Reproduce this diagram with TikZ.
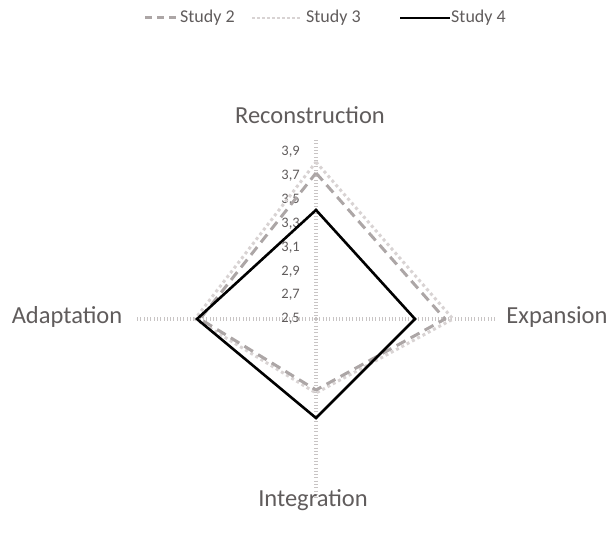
\documentclass[tikz,border=0pt]{standalone}
\usepackage{fontspec}
\setmainfont{Carlito}
\usepackage{xcolor}
\definecolor{txtgray}{RGB}{96,92,92}
\definecolor{axgray}{RGB}{200,196,196}
\definecolor{stwo}{RGB}{172,166,166}
\definecolor{sthree}{RGB}{216,211,211}
\tikzset{
  axisline/.style={axgray, line width=4pt, dash pattern=on 0.7pt off 2.6pt},
  studytwo/.style={stwo, line width=3pt, dash pattern=on 10pt off 6pt, line join=round},
  studythree/.style={sthree, line width=3pt, dash pattern=on 3pt off 3pt, line join=round},
  studyfour/.style={black, line width=2.6pt, line join=miter},
  axlabel/.style={txtgray, font=\fontsize{24.5}{28}\selectfont},
  ticklabel/.style={txtgray, font=\fontsize{14.5}{16}\selectfont, anchor=east, inner sep=1pt},
  legtext/.style={txtgray, font=\fontsize{18}{20}\selectfont, anchor=west, inner sep=2pt}
}
\begin{document}
\begin{tikzpicture}[x=1pt,y=1pt]
\useasboundingbox (0,0) rectangle (612,536);

% axes
\coordinate (c) at (316,217);
\coordinate (atop) at (316,396);
\coordinate (abot) at (316,38);
\coordinate (aleft) at (137,217);
\coordinate (aright) at (495,217);
\draw [axisline] (c) -- (atop);
\draw [axisline] (c) -- (abot);
\draw [axisline] (c) -- (aleft);
\draw [axisline] (c) -- (aright);

% tick labels
\foreach \v/\t in {0/{2,5}, 1/{2,7}, 2/{2,9}, 3/{3,1}, 4/{3,3}, 5/{3,5}, 6/{3,7}, 7/{3,9}}
  \node [ticklabel] (tk\v) at (301,217+\v*23.86) {\t};

% Study 3
\draw [studythree] (316,374) -- (453,217) -- (316,143) -- (195,217) -- cycle;
% Study 2
\draw [studytwo] (316,363) -- (445,217) -- (316,146) -- (200,217) -- cycle;
% Study 4
\draw [studyfour] (316,326) -- (415,217) -- (316,118) -- (197,217) -- cycle;

% axis names
\node [axlabel] (recon) at (310,421) {Reconstruction};
\node [axlabel] (integ) at (313,36) {Integration};
\node [axlabel] (adapt) at (67,219) {Adaptation};
\node [axlabel] (expan) at (557,219) {Expansion};

% legend
\coordinate (l2a) at (145,518);
\coordinate (l2b) at (176,518);
\coordinate (l3a) at (252,518);
\coordinate (l3b) at (300,518);
\coordinate (l4a) at (400,518);
\coordinate (l4b) at (450,518);
\draw [studytwo, dash pattern=on 7pt off 5pt] (l2a) -- (l2b);
\node [legtext] (leg2) at (178,518) {Study 2};
\draw [studythree, line width=2.5pt, dash pattern=on 2.5pt off 2.5pt] (l3a) -- (l3b);
\node [legtext] (leg3) at (304,518) {Study 3};
\draw [studyfour] (l4a) -- (l4b);
\node [legtext] (leg4) at (449,518) {Study 4};
\end{tikzpicture}
\end{document}
